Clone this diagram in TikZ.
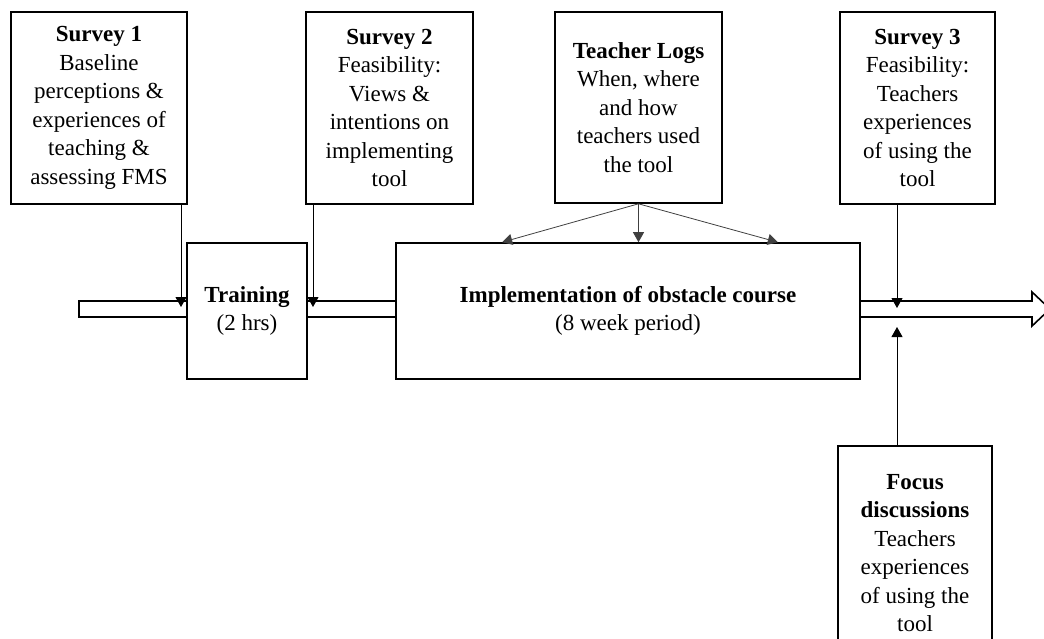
\documentclass[tikz,border=0pt]{standalone}
\usepackage{fontspec}
\setmainfont{Liberation Serif}
\usetikzlibrary{
  arrows.meta,
  backgrounds,  % Predefined layer named "background"
}
\tikzset{
  >={Triangle[width=11pt,length=10pt]},
  my box/.style={
    draw,
    line width=1.6pt,
    fill=white,
    align=center,
    inner sep=0pt,
    font=\fontsize{23}{28.5}\selectfont
  },
  my link/.style={
    ->,
    line width=1pt
  },
  my log link/.style={
    my link,
    draw=black!75,
    line width=0.8pt
  },
  my band/.style={
    draw,
    line width=1.6pt,
    fill=white
  }
}

\begin{document}
\begin{tikzpicture}[x=1pt,y=-1pt]
\useasboundingbox (0,0) rectangle (1044,638);
\node[my box,minimum width=176pt,minimum height=192pt] (s1)    at (99,108)
  {\textbf{Survey 1}\\Baseline\\perceptions \&\\experiences of\\teaching \&\\assessing FMS};
\node[my box,minimum width=167pt,minimum height=192pt] (s2)    at (389.5,108)
  {\textbf{Survey 2}\\Feasibility:\\Views \&\\intentions on\\implementing\\tool};
\node[my box,minimum width=167pt,minimum height=191pt] (logs)  at (638.5,107.5)
  {\textbf{Teacher Logs}\\When, where\\and how\\teachers used\\the tool};
\node[my box,minimum width=155pt,minimum height=192pt] (s3)    at (917.5,108)
  {\textbf{Survey 3}\\Feasibility:\\Teachers\\experiences\\of using the\\tool};
\node[my box,minimum width=120pt,minimum height=136pt] (train) at (247,311)
  {\textbf{Training}\\(2 hrs)};
\node[my box,minimum width=464pt,minimum height=136pt] (impl)  at (628,311)
  {\textbf{Implementation of obstacle course}\\(8 week period)};
\node[my box,minimum width=154pt,minimum height=214pt] (focus) at (915,553)
  {\textbf{Focus}\\\textbf{discussions}\\Teachers\\experiences\\of using the\\tool};

% Timeline band behind the boxes
\begin{scope}[on background layer]
\draw[my band] (79,301) -- (1032,301) -- (1032,292) -- (1050,309)
  -- (1032,326) -- (1032,317) -- (79,317) -- cycle;
\end{scope}

\coordinate (in1) at (181,307);
\coordinate (in2) at (313,307);
\coordinate (in3) at (897,308);
\coordinate (in4) at (897,327);
\draw[my link] (s1.south -| in1)    -- (in1);
\draw[my link] (s2.south -| in2)    -- (in2);
\draw[my link] (s3.south -| in3)    -- (in3);
\draw[my link] (focus.north -| in4) -- (in4);
\draw[my log link] (logs.south) -- ([xshift=107pt]impl.north west);
\draw[my log link] (logs.south) -- (logs.south |- impl.north);
\draw[my log link] (logs.south) -- ([xshift=-83pt]impl.north east);
\end{tikzpicture}
\end{document}
